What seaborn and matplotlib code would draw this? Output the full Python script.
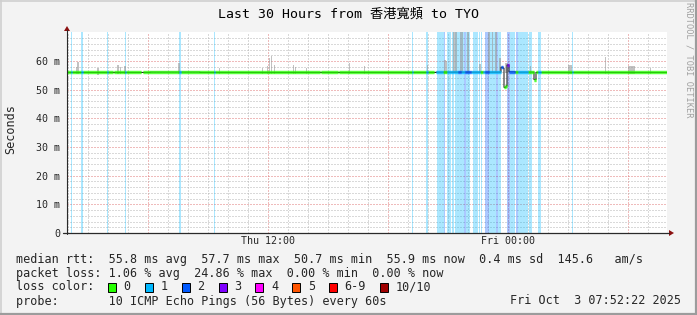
import numpy as np
import pandas as pd
import matplotlib
matplotlib.use("Agg")
import matplotlib.pyplot as plt
from matplotlib.lines import Line2D
from matplotlib.patches import Polygon, Rectangle
import seaborn as sns

# ---------------- data ----------------
title = "Last 30 Hours from 香港寬頻 to TYO"
y_label = "Seconds"
watermark = "RRDTOOL / TOBI OETIKER"
t_start = 1.935          # hours since Thu 00:00
t_span = 30.0
step = 0.05              # 3-minute consolidated samples
x_tick_hours = [12, 24]
x_tick_labels = ["Thu 12:00", "Fri 00:00"]
y_ticks = [0, 10, 20, 30, 40, 50, 60]
y_tick_labels = ["0", "10 m", "20 m", "30 m", "40 m", "50 m", "60 m"]

# median rtt (ms): each value holds from its change point until the next one
median_t = [1.935, 6.085, 8.585, 20.385, 23.635, 23.735, 23.785, 23.885, 23.935, 24.035, 24.335, 25.285, 25.36]
median_v = [56.0, 56.1, 56.0, 56.1, 57.8, 57.5, 50.8, 51.3, 58.6, 56.2, 56.1, 53.5, 56.0]

# losses shown by the colour of the median line (-1 = no coloured line)
line_loss_start = [2.135, 2.635, 3.935, 4.235, 4.835, 5.61, 7.535, 9.285, 14.585, 15.485, 19.185, 19.885,
                   20.26, 20.38, 20.935, 21.485, 21.635, 21.835, 22.135, 22.735, 22.835, 23.035, 23.635,
                   23.735, 23.935, 24.035, 24.485, 25.485, 27.185]
line_loss_end = [2.185, 2.735, 3.985, 4.285, 4.885, 5.69, 7.635, 9.335, 14.635, 15.535, 19.235, 19.985,
                 20.38, 20.735, 21.485, 21.635, 21.835, 22.135, 22.585, 22.835, 23.035, 23.635, 23.735,
                 23.785, 24.035, 24.335, 24.985, 25.635, 27.235]
line_loss_level = [1, 1, 1, -1, 1, -1, 1, 1, -1, -1, 1, 1,
                   -1, 1, 1, 2, 1, 2, 1, 1, 2, 1, 2,
                   -1, 3, 2, 1, 1, 1]

# packet-loss background bars
band_start = [2.135, 2.635, 3.935, 4.835, 7.535, 9.285, 19.185, 19.885, 20.435, 20.785, 20.935, 21.185,
              21.335, 21.785, 21.885, 22.235, 22.535, 22.635, 22.835, 23.035, 23.235, 23.385, 23.485,
              23.935, 24.085, 24.385, 24.485, 25.035, 25.485, 27.185]
band_end = [2.185, 2.735, 3.985, 4.885, 7.635, 9.335, 19.235, 19.985, 20.785, 20.835, 21.135, 21.285,
            21.785, 21.885, 22.085, 22.485, 22.585, 22.685, 23.035, 23.235, 23.385, 23.485, 23.635,
            24.085, 24.335, 24.485, 24.985, 25.185, 25.635, 27.235]
band_level = [1, 1, 1, 1, 1, 1, 1, 1, 1, 2, 1, 1,
              1, 2, 1, 1, 1, 1, 2, 1, 1, 2, 1,
              2, 1, 2, 1, 1, 1, 1]

# smoke (spread of the 10 pings), ms
smoke_start = [2.385, 2.435, 3.435, 4.435, 4.585, 4.785, 7.485, 9.535, 11.685, 11.935, 12.035, 12.135,
               12.285, 13.235, 13.335, 13.885, 16.035, 16.785, 19.935, 20.785, 20.885, 21.235, 21.585,
               21.935, 22.535, 22.985, 23.185, 23.335, 23.535, 23.835, 25.085, 26.985, 28.835, 29.985,
               31.085]
smoke_end = [2.435, 2.535, 3.535, 4.535, 4.635, 4.885, 7.585, 9.585, 11.735, 11.985, 12.085, 12.185,
             12.335, 13.285, 13.385, 13.935, 16.085, 16.835, 19.985, 20.885, 20.935, 21.435, 21.735,
             22.035, 22.635, 23.085, 23.235, 23.435, 23.635, 23.985, 25.135, 27.185, 28.885, 30.335,
             31.135]
smoke_lo = [55.6, 55.5, 55.1, 55.3, 55.6, 55.5, 55.6, 55.6, 55.5, 55.6, 55.6, 55.5,
            55.6, 55.5, 55.6, 55.6, 55.6, 55.6, 55.6, 55.6, 55.6, 55.8, 55.8,
            55.8, 55.8, 55.8, 55.8, 55.8, 55.8, 55.8, 55.6, 55.3, 55.6, 55.3,
            55.6]
smoke_hi = [58.0, 59.8, 57.4, 58.7, 58.0, 58.3, 59.2, 57.4, 57.6, 58.3, 60.9, 61.7,
            58.6, 58.6, 57.9, 57.5, 59.4, 58.2, 58.6, 60.3, 60.0, 70.0, 70.0,
            70.0, 59.0, 70.0, 70.0, 70.0, 61.0, 59.2, 58.2, 58.6, 61.5, 58.2,
            57.4]

# legend values
legend_rtt = "median rtt:  55.8 ms avg  57.7 ms max  50.7 ms min  55.9 ms now  0.4 ms sd  145.6   am/s"
legend_loss = "packet loss: 1.06 % avg  24.86 % max  0.00 % min  0.00 % now"
loss_labels = ["0", "1", "2", "3", "4", "5", "6-9", "10/10"]
loss_colors = ["#26ff00", "#00b8ff", "#0059ff", "#7e00ff", "#ff00ff", "#ff5500", "#ff0000", "#a00000"]
probe_text = "probe:       10 ICMP Echo Pings (56 Bytes) every 60s"
stamp_text = "Fri Oct  3 07:52:22 2025"

# ---------------- figure ----------------
sns.set_style("white")
plt.rcParams["font.family"] = ["DejaVu Sans Mono", "Noto Sans CJK TC"]

W, H = 697, 315
fig = plt.figure(figsize=(W / 100, H / 100), dpi=100, facecolor="#f3f3f3")


def px(x, y):
    return (x / W, 1 - y / H)


ax_l, ax_r, ax_b, ax_t = 67, 667, 233, 32.3
ax = fig.add_axes([ax_l / W, (H - ax_b) / H, (ax_r - ax_l) / W, (ax_b - ax_t) / H])
ax.set_facecolor("white")
ax.set_xlim(t_start, t_start + t_span)
ax.set_ylim(0, 70)

# grid
ax.set_xticks([6, 12, 18, 24, 30])
ax.set_xticks(np.arange(2, 32, 1), minor=True)
ax.set_xticklabels([x_tick_labels[x_tick_hours.index(h)] if h in x_tick_hours else "" for h in [6, 12, 18, 24, 30]])
ax.set_yticks(y_ticks)
ax.set_yticklabels(y_tick_labels)
ax.set_yticks(np.arange(2, 70, 2), minor=True)
ax.grid(which="minor", color="#b4b4b4", linestyle=(0, (1, 2)), linewidth=0.72, zorder=0.5)
ax.grid(which="major", color="#e07878", linestyle=(0, (1, 2)), linewidth=0.72, zorder=0.6)
ax.set_axisbelow(True)
ax.tick_params(which="both", length=0, labelsize=7.2)
ax.tick_params(axis="x", pad=2.2)
ax.tick_params(axis="y", pad=5)
for s in ax.spines.values():
    s.set_visible(False)

# samples
t = t_start + step * np.arange(int(round(t_span / step)))
idx = np.searchsorted(np.array(median_t), t + 1e-9, side="right") - 1
med = np.array(median_v)[idx]
loss = np.zeros(len(t), dtype=int)
for s, e, lv in zip(line_loss_start, line_loss_end, line_loss_level):
    loss[(t >= s - 1e-6) & (t < e - 1e-6)] = lv

# loss bands
for s, e, lv in zip(band_start, band_end, band_level):
    ax.axvspan(s, e, color=loss_colors[lv], alpha=0.33, lw=0, zorder=1)

# smoke
sl = np.array(smoke_lo)
sh = np.array(smoke_hi)
ss = np.array(smoke_start)
se = np.array(smoke_end)
ax.bar(ss, sh - sl, bottom=sl, width=se - ss, align="edge", color="#9a9a9a", alpha=0.6, lw=0, zorder=2)

# thin median line
df = pd.DataFrame({"t": np.append(t, t[-1] + step), "rtt": np.append(med, med[-1])})
sns.lineplot(data=df, x="t", y="rtt", drawstyle="steps-post", color="#202020", linewidth=0.75,
             ax=ax, zorder=3, legend=False)
ax.set_xlabel("")
ax.set_ylabel("")

# coloured median by loss
for lv in range(len(loss_colors)):
    m = loss == lv
    if m.any():
        ax.hlines(med[m], t[m], t[m] + step, colors=loss_colors[lv], linewidth=2.4, zorder=4,
                  capstyle="butt")

# axes lines with arrows
axis_col = "#2a2a2a"
arrow_col = "#8b1010"
fig.add_artist(Line2D([px(67, 0)[0]] * 2, [px(0, 233.5)[1], px(0, 30)[1]], color=axis_col, lw=0.8))
fig.add_artist(Line2D([px(63, 0)[0], px(669, 0)[0]], [px(0, 233)[1]] * 2, color=axis_col, lw=0.9))
fig.add_artist(Polygon([px(64, 31), px(70, 31), px(67, 26)], closed=True, color=arrow_col, lw=0))
fig.add_artist(Polygon([px(669, 230), px(669, 236), px(674, 233)], closed=True, color=arrow_col, lw=0))

# texts
fig.text(*px(348.5, 14), title, ha="center", va="center", fontsize=9.5, color="black")
fig.text(*px(10.5, 129), y_label, ha="center", va="center", rotation=90, fontsize=8.5)
fig.text(*px(689, 60), watermark, ha="center", va="center", rotation=270, fontsize=6.2, color="#a0a0a0")

fs = 8.47
cw = 7.08
fig.text(*px(16, 259), legend_rtt, ha="left", va="center", fontsize=fs)
fig.text(*px(16, 273), legend_loss, ha="left", va="center", fontsize=fs)
fig.text(*px(16, 287), "loss color:", ha="left", va="center", fontsize=fs)
x = 108.0
for lab, col in zip(loss_labels, loss_colors):
    bx, by = px(x, 291.5)
    fig.add_artist(Rectangle((bx, by), 8 / W, 9 / H, facecolor=col, edgecolor="black", lw=0.7,
                             transform=fig.transFigure))
    lx = x + 15.6
    fig.text(*px(lx, 287), lab, ha="left", va="center", fontsize=fs)
    x = lx + (len(lab) + 2) * cw
fig.text(*px(16, 301), probe_text, ha="left", va="center", fontsize=fs)
fig.text(*px(681, 301), stamp_text, ha="right", va="center", fontsize=fs)

# frame
fig.add_artist(Line2D([0, 1], [1 - 0.5 / H] * 2, color="#d0d0d0", lw=1.2))
fig.add_artist(Line2D([0.5 / W] * 2, [0, 1], color="#d0d0d0", lw=1.2))
fig.add_artist(Line2D([1 - 1 / W] * 2, [0, 1], color="#9c9c9c", lw=1.6))
fig.add_artist(Line2D([0, 1], [1 / H] * 2, color="#9c9c9c", lw=1.6))

fig.savefig("out.png", dpi=100, facecolor=fig.get_facecolor())
